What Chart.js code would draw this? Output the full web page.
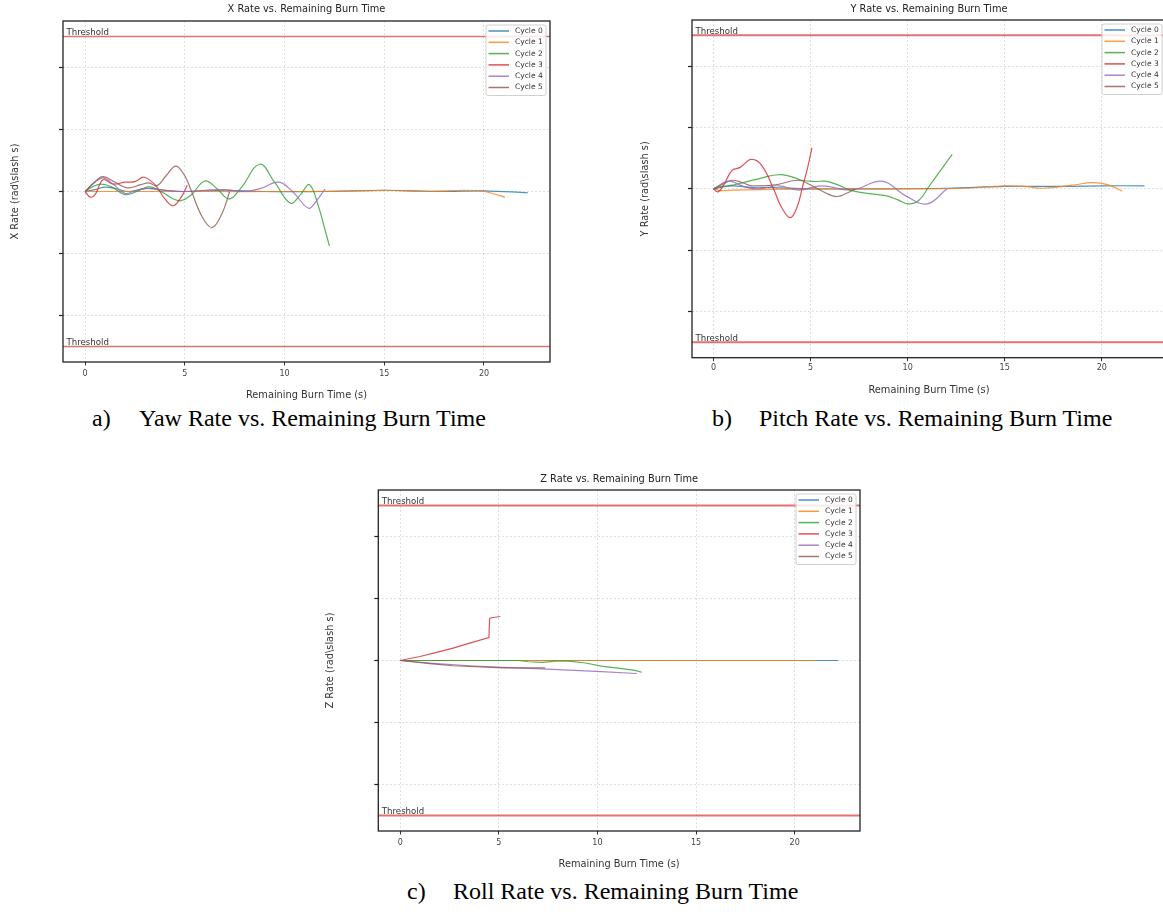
<!DOCTYPE html>
<html><head><meta charset="utf-8">
<script src="https://cdn.jsdelivr.net/npm/chart.js@4"></script>
<style>
html,body{margin:0;padding:0;background:#fff;}
#page{position:relative;width:1163px;height:914px;overflow:hidden;background:#fff;}
canvas{position:absolute;}
.cap{position:absolute;font-family:"Liberation Serif","Times New Roman",serif;font-size:24px;line-height:24px;color:#000;white-space:nowrap;}
</style></head><body>
<div id="page">
<canvas id="ca" width="560" height="405" style="left:0px;top:0px"></canvas>
<canvas id="cb" width="580" height="400" style="left:600px;top:0px"></canvas>
<canvas id="cc" width="570" height="435" style="left:300px;top:440px"></canvas>
<div class="cap" style="left:92px;top:406px">a)</div>
<div class="cap" style="left:139px;top:406px">Yaw Rate vs. Remaining Burn Time</div>
<div class="cap" style="left:712px;top:406px">b)</div>
<div class="cap" style="left:759px;top:406px">Pitch Rate vs. Remaining Burn Time</div>
<div class="cap" style="left:407px;top:879px">c)</div>
<div class="cap" style="left:453px;top:879px">Roll Rate vs. Remaining Burn Time</div>
</div>
<script>
// ---------- data ----------
const cycleLabels = ['Cycle 0','Cycle 1','Cycle 2','Cycle 3','Cycle 4','Cycle 5'];
const cycleColors = ['rgba(31,119,180,0.8)','rgba(255,127,14,0.8)','rgba(44,160,44,0.8)','rgba(214,39,40,0.8)','rgba(148,103,189,0.8)','rgba(140,86,75,0.8)'];
const xTicks = [0,5,10,15,20];
const yTicks = [-2,-1,0,1,2];
const thresholds = [2.5,-2.5];
const thresholdLabel = 'Threshold';
const xRange = [-1.11, 23.31];
const yRange = [-2.75, 2.75];
const xAxisTitle = 'Remaining Burn Time (s)';

// X rate (yaw) : [time, rate]
const xRateC0 = [[0,0],[0.5,0.03],[1,0.07],[1.6,0.04],[2.2,0.0],[3,0.05],[3.5,0.04],[4.2,0.01],[5,0],[7,0.02],[9,0],[12,0],[15,0.02],[18,0],[20,0.01],[22.2,-0.02]];
const xRateC1 = [[0,0],[3,0],[6,0],[10,0],[14,0.01],[15,0.02],[17,0],[19,0.02],[20,0],[20.5,-0.04],[21.05,-0.09]];
const xRateC2 = [[0,0],[0.4,0.08],[0.8,0.12],[1.3,0.08],[2.0,-0.05],[2.6,0.0],[3.2,0.08],[3.8,0.0],[4.7,-0.15],[5.3,-0.06],[6.0,0.17],[6.6,0.05],[7.2,-0.12],[7.8,0.05],[8.75,0.44],[9.5,0.15],[10.3,-0.19],[10.8,-0.05],[11.25,0.11],[11.7,-0.24],[12.03,-0.62],[12.25,-0.88]];
const xRateC3 = [[0,0],[0.25,-0.09],[0.5,-0.05],[0.9,0.19],[1.4,0.12],[2.0,0.15],[2.5,0.16],[2.95,0.23],[3.5,0.11],[4.0,-0.12],[4.4,-0.23],[4.8,-0.1],[5.12,0.1]];
const xRateC4 = [[0,0],[0.5,0.15],[0.9,0.22],[1.4,0.12],[2.0,-0.03],[2.6,0.02],[3.2,0.05],[4,0.02],[5,0],[6,0.02],[7,0.03],[8,0],[8.8,0.05],[9.7,0.15],[10.4,0.0],[11.2,-0.27],[11.6,-0.15],[12.03,0.04]];
const xRateC5 = [[0,0],[0.5,0.16],[0.9,0.24],[1.5,0.15],[2.1,0.06],[2.8,0.11],[3.2,0.14],[3.6,0.09],[4.05,0.25],[4.55,0.41],[5.0,0.25],[5.3,0.03],[5.87,-0.41],[6.37,-0.58],[6.87,-0.35],[7.25,0]];

// Y rate (pitch)
const yRateC0 = [[0,0],[0.5,0.03],[1,0.05],[2,0.02],[3,0.02],[5,0],[8,0],[12,0.01],[15,0.04],[18,0.04],[20,0.05],[22.2,0.05]];
const yRateC1 = [[0,0],[0.4,-0.03],[1,-0.02],[3,-0.01],[6,0],[10,0],[13,0.01],[15,0.05],[16,0.04],[17,0.01],[18.5,0.06],[19.5,0.1],[20.3,0.07],[21.05,-0.04]];
const yRateC2 = [[0,0],[0.43,0.04],[1.0,0.06],[1.63,0.11],[2.5,0.18],[3.35,0.23],[4.0,0.2],[4.55,0.14],[5.2,0.12],[5.76,0.125],[6.27,0.08],[7.13,-0.03],[7.82,-0.07],[8.85,-0.11],[9.5,-0.18],[10.0,-0.245],[10.57,-0.19],[11.08,0.03],[11.7,0.3],[12.29,0.56]];
const yRateC3 = [[0,0],[0.22,-0.05],[0.5,0.05],[0.95,0.3],[1.37,0.35],[1.94,0.48],[2.49,0.38],[3.09,0],[3.5,-0.3],[3.95,-0.47],[4.3,-0.3],[4.6,0.05],[4.85,0.35],[5.07,0.67]];
const yRateC4 = [[0,0],[0.77,0.125],[1.63,0.03],[2.3,0],[3.35,0.05],[4.38,-0.02],[5.58,0.05],[7.13,-0.02],[8.68,0.125],[9.88,-0.11],[11.0,-0.245],[12.03,0]];
const yRateC5 = [[0,0],[0.5,0.08],[0.95,0.14],[1.5,0.1],[1.98,0.05],[3.18,0.065],[4.38,0.14],[5.07,0.05],[5.93,-0.09],[6.36,-0.125],[6.8,-0.08],[7.3,0]];

// Z rate (roll)
const zRateC0 = [[0,0],[5,0],[10,0],[15,0],[20,0],[22.2,0]];
const zRateC1 = [[0,0],[5,0],[10,0],[15,0],[21.05,0]];
const zRateC2 = [[0,0],[3,0],[6,0],[6.5,-0.02],[7.2,-0.03],[7.9,-0.01],[8.56,-0.01],[9.4,-0.04],[10.2,-0.09],[11.24,-0.13],[11.9,-0.16],[12.25,-0.19]];
const zRateC3 = [[0,0],[1.0,0.064],[1.85,0.13],[2.68,0.2],[3.52,0.28],[4.5,0.37],[4.53,0.67],[4.61,0.69],[5.08,0.71]];
const zRateC4 = [[0,0],[1.85,-0.05],[3.52,-0.085],[5.2,-0.11],[6.88,-0.13],[8.56,-0.155],[10.2,-0.18],[12.0,-0.21]];
const zRateC5 = [[0,0],[1.5,-0.05],[2.68,-0.085],[5.2,-0.12],[7.35,-0.12]];

// ---------- chart building ----------
const FONT = '"DejaVu Sans", Verdana, sans-serif';

const overlayPlugin = {
  id: 'overlay',
  afterDatasetsDraw(chart) {
    const {ctx, chartArea: a} = chart;
    const ys = chart.scales.y;
    ctx.save();
    ctx.strokeStyle = '#222';
    ctx.lineWidth = 1.3;
    ctx.strokeRect(a.left, a.top, a.right - a.left, a.bottom - a.top);
    ctx.font = '8.6px ' + FONT;
    ctx.fillStyle = '#333';
    ctx.textBaseline = 'alphabetic';
    ctx.textAlign = 'left';
    thresholds.forEach(t => ctx.fillText(thresholdLabel, a.left + 3.5, ys.getPixelForValue(t) - 1.8));
    ctx.restore();
  },
  afterDraw(chart) {
    const {ctx, chartArea: a} = chart;
    const items = chart.data.datasets.filter(d => d.isCycle);
    const w = 60, rowH = 11.3, h = 6 + rowH * (items.length - 1) + 8;
    const x = a.right - 4 - w, y = a.top + 4;
    ctx.save();
    ctx.fillStyle = 'rgba(255,255,255,0.85)';
    ctx.strokeStyle = '#d0d0d0';
    ctx.lineWidth = 1;
    ctx.beginPath();
    if (ctx.roundRect) ctx.roundRect(x, y, w, h, 2); else ctx.rect(x, y, w, h);
    ctx.fill(); ctx.stroke();
    ctx.font = '7.5px ' + FONT;
    ctx.textBaseline = 'middle';
    ctx.textAlign = 'left';
    items.forEach((d, i) => {
      const ry = y + 6 + i * rowH;
      ctx.strokeStyle = d.borderColor;
      ctx.lineWidth = 1.5;
      ctx.beginPath(); ctx.moveTo(x + 2.5, ry); ctx.lineTo(x + 23, ry); ctx.stroke();
      ctx.fillStyle = '#333';
      ctx.fillText(d.label, x + 29, ry);
    });
    ctx.restore();
  }
};

function makeChart(id, title, yTitle, series, g) {
  const datasets = [];
  thresholds.forEach(t => datasets.push({
    label: thresholdLabel,
    data: [{x: xRange[0], y: t}, {x: xRange[1], y: t}],
    borderColor: 'rgba(214,39,40,0.65)', borderWidth: g.thW, pointRadius: 0, tension: 0,
    isCycle: false, order: 200
  }));
  series.forEach((s, i) => datasets.push({
    label: cycleLabels[i],
    data: s.map(p => ({x: p[0], y: p[1]})),
    borderColor: cycleColors[i], borderWidth: 1.2, pointRadius: 0,
    tension: g.tension, isCycle: true, order: 100 - i
  }));
  return new Chart(document.getElementById(id), {
    type: 'line',
    data: {datasets},
    options: {
      responsive: false, animation: false, devicePixelRatio: 1,
      layout: {padding: {left: 0, top: 0, right: g.padR, bottom: 0}},
      plugins: {
        legend: {display: false}, tooltip: {enabled: false},
        title: {display: true, text: title, fullSize: false, color: '#222',
          font: {family: FONT, size: 9.8, weight: 'normal', lineHeight: '12px'}, padding: g.titlePad}
      },
      scales: {
        x: {
          type: 'linear', min: xRange[0], max: xRange[1],
          afterBuildTicks: s => { s.ticks = xTicks.map(v => ({value: v})); },
          afterFit: s => { s.height = g.xH; },
          grid: {color: 'rgba(0,0,0,0.16)', lineWidth: 0.8,
                 tickColor: '#333', tickBorderDash: [], tickLength: 3.5, tickWidth: 1},
          border: {display: false, dash: [2, 2]},
          ticks: {color: '#444', font: {family: FONT, size: 8}, padding: g.xTickPad, maxRotation: 0},
          title: {display: true, text: xAxisTitle, color: '#333',
            font: {family: FONT, size: 9.8}, padding: {top: 0, bottom: g.xTitlePadB}}
        },
        y: {
          type: 'linear', min: yRange[0], max: yRange[1],
          afterBuildTicks: s => { s.ticks = yTicks.map(v => ({value: v})); },
          afterFit: s => { s.width = g.yW; },
          grid: {color: 'rgba(0,0,0,0.16)', lineWidth: 0.8,
                 tickColor: '#222', tickBorderDash: [], tickLength: 4, tickWidth: 1.2},
          border: {display: false, dash: [2, 2]},
          ticks: {display: false},
          title: {display: true, text: yTitle, color: '#333',
            font: {family: FONT, size: 9.8}, padding: {top: g.yTitlePadT, bottom: 0}}
        }
      }
    },
    plugins: [overlayPlugin]
  });
}

makeChart('ca', 'X Rate vs. Remaining Burn Time', 'X Rate (rad\\slash s)',
  [xRateC0, xRateC1, xRateC2, xRateC3, xRateC4, xRateC5],
  {padR: 10, titlePad: {top: 3.3, bottom: 5.7}, xH: 43, xTickPad: 3.7, xTitlePadB: 4.1, yW: 63, yTitlePadT: 9.6, tension: 0.4, thW: 1.4});
makeChart('cb', 'Y Rate vs. Remaining Burn Time', 'Y Rate (rad\\slash s)',
  [yRateC0, yRateC1, yRateC2, yRateC3, yRateC4, yRateC5],
  {padR: 14, titlePad: {top: 3, bottom: 5}, xH: 42.3, xTickPad: 1.7, xTitlePadB: 4.1, yW: 92, yTitlePadT: 40, tension: 0.4, thW: 2});
makeChart('cc', 'Z Rate vs. Remaining Burn Time', 'Z Rate (rad\\slash s)',
  [zRateC0, zRateC1, zRateC2, zRateC3, zRateC4, zRateC5],
  {padR: 10, titlePad: {top: 33, bottom: 5}, xH: 44, xTickPad: 3.7, xTitlePadB: 5.1, yW: 78.3, yTitlePadT: 25, tension: 0, thW: 2});
</script>
</body></html>
